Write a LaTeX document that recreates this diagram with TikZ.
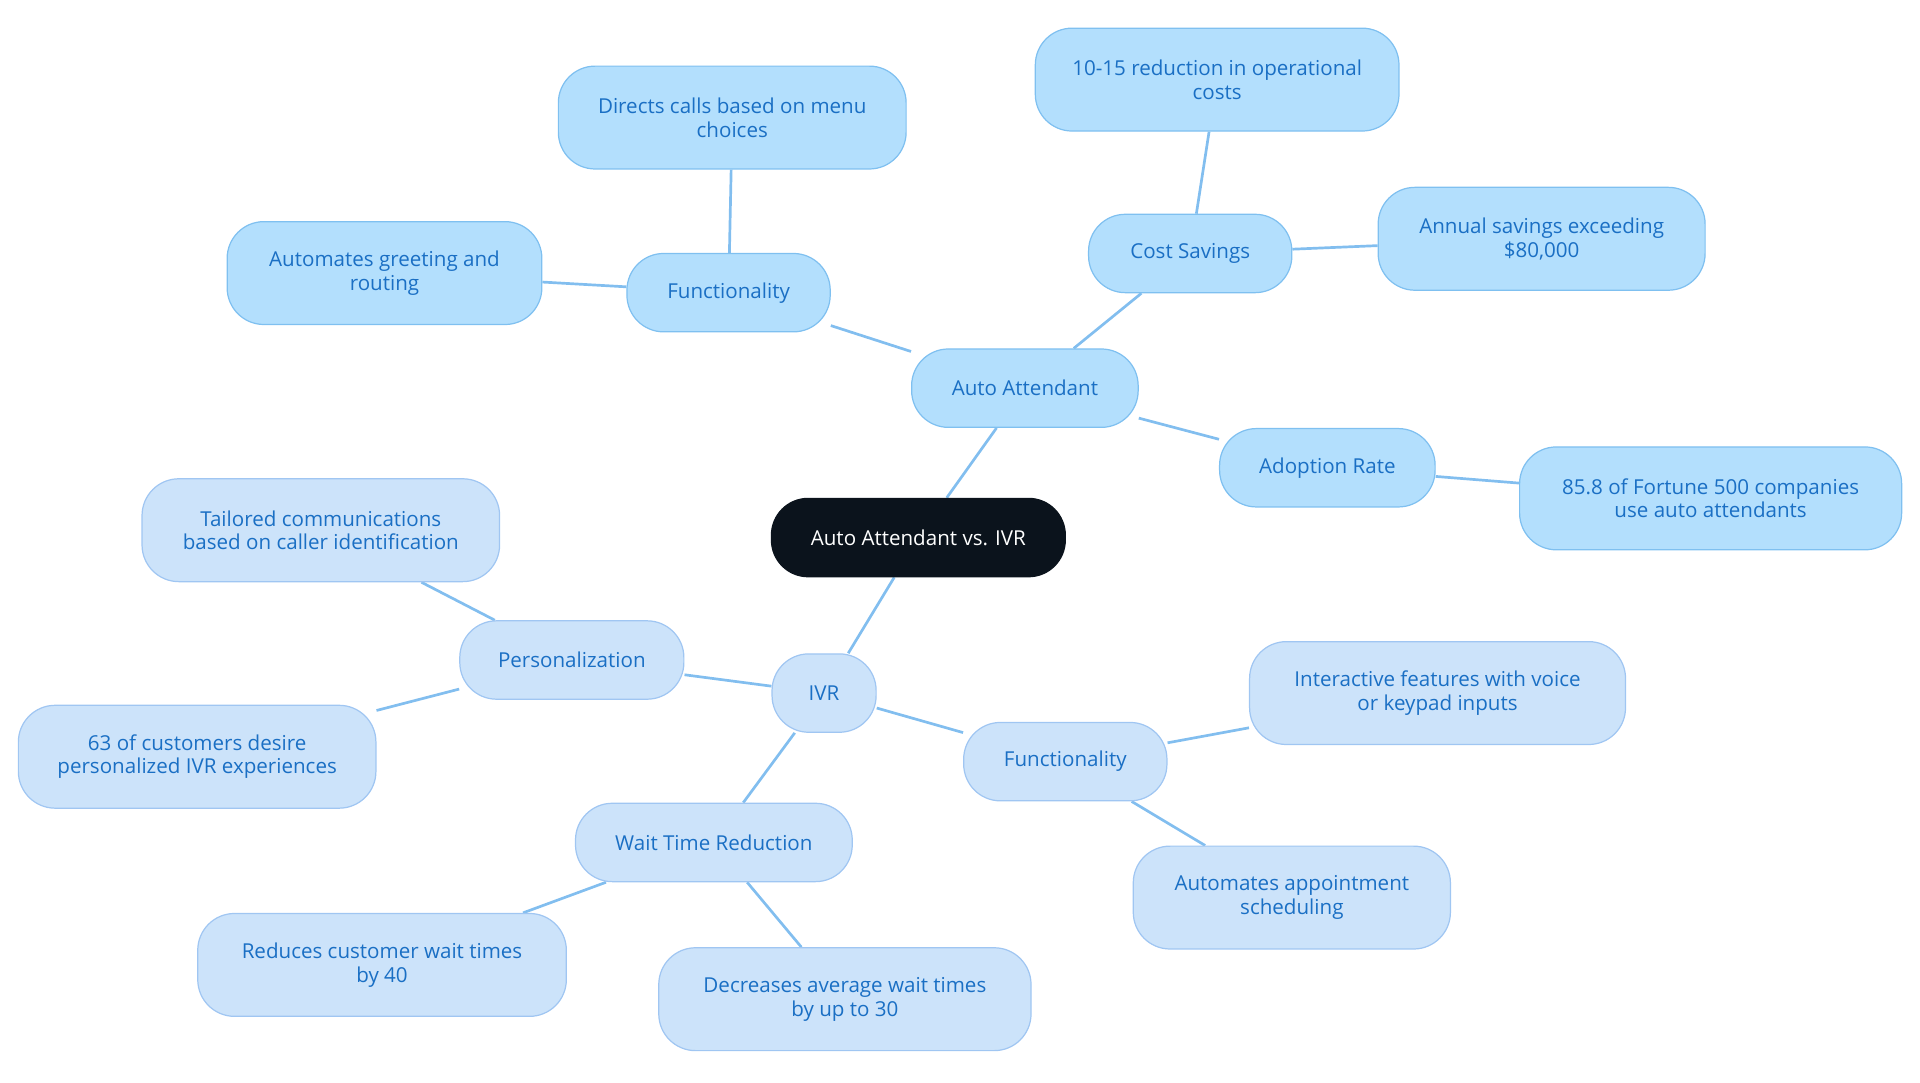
\documentclass[tikz,border=0pt]{standalone}
\usepackage{fontspec}
\setmainfont{Open Sans}
\usetikzlibrary{backgrounds}
\definecolor{aafill}{HTML}{B3DFFD}
\definecolor{aadraw}{HTML}{7FC0F0}
\definecolor{ivfill}{HTML}{CCE3FA}
\definecolor{ivdraw}{HTML}{A0C6F2}
\definecolor{txt}{HTML}{1A6FC4}
\definecolor{rootc}{HTML}{0B131C}
\definecolor{edgec}{HTML}{82BEEF}
\tikzset{
 x=0.5pt,y=-0.5pt,
 box/.style={rounded corners=15pt,align=center,font=\fontsize{8.4}{9.6}\selectfont,text=txt,inner sep=0pt,line width=0.5pt},
 aa/.style={box,fill=aafill,draw=aadraw},
 iv/.style={box,fill=ivfill,draw=ivdraw},
 con/.style={draw=edgec,line width=1.1pt}
}
\newcommand{\bx}[6]{\node[#1,minimum width=#4*0.5pt,minimum height=#5*0.5pt] (#2) at #3 {#6};}
\begin{document}
\begin{tikzpicture}
\useasboundingbox (0,0) rectangle (1568,884);
\bx{box,fill=rootc,draw=rootc,text=white}{root}{(750,439)}{240}{64}{Auto Attendant vs. IVR}
\bx{aa}{aa}{(837,317)}{185}{64}{Auto Attendant}
\bx{aa}{f1}{(595,239)}{166}{64}{Functionality}
\bx{aa}{dir}{(598,96)}{284}{84}{Directs calls based on menu\\choices}
\bx{aa}{gre}{(314,223)}{257}{84}{Automates greeting and\\routing}
\bx{aa}{cost}{(972,207)}{166}{64}{Cost Savings}
\bx{aa}{red}{(994,65)}{297}{84}{10-15 reduction in operational\\costs}
\bx{aa}{ann}{(1259,195)}{267}{84}{Annual savings exceeding\\\$80,000}
\bx{aa}{ado}{(1084,382)}{176}{64}{Adoption Rate}
\bx{aa}{fort}{(1397,407)}{312}{84}{85.8 of Fortune 500 companies\\use auto attendants}
\bx{iv}{ivr}{(673,566)}{85}{64}{IVR}
\bx{iv}{per}{(467,539)}{183}{64}{Personalization}
\bx{iv}{tai}{(262,433)}{292}{84}{Tailored communications\\based on caller identification}
\bx{iv}{sixty}{(161,618)}{292}{84}{63 of customers desire\\personalized IVR experiences}
\bx{iv}{f2}{(870,622)}{166}{64}{Functionality}
\bx{iv}{int}{(1174,566)}{307}{84}{Interactive features with voice\\or keypad inputs}
\bx{iv}{app}{(1055,733)}{259}{84}{Automates appointment\\scheduling}
\bx{iv}{wait}{(583,688)}{226}{64}{Wait Time Reduction}
\bx{iv}{redu}{(312,788)}{301}{84}{Reduces customer wait times\\by 40}
\bx{iv}{dec}{(690,816)}{304}{84}{Decreases average wait times\\by up to 30}
\begin{scope}[on background layer]
\foreach \a/\b in {root/aa,aa/f1,f1/dir,f1/gre,aa/cost,cost/red,cost/ann,aa/ado,ado/fort,root/ivr,ivr/per,per/tai,per/sixty,ivr/f2,f2/int,f2/app,ivr/wait,wait/redu,wait/dec}
  \draw[con] (\a) -- (\b);
\end{scope}
\end{tikzpicture}
\end{document}
